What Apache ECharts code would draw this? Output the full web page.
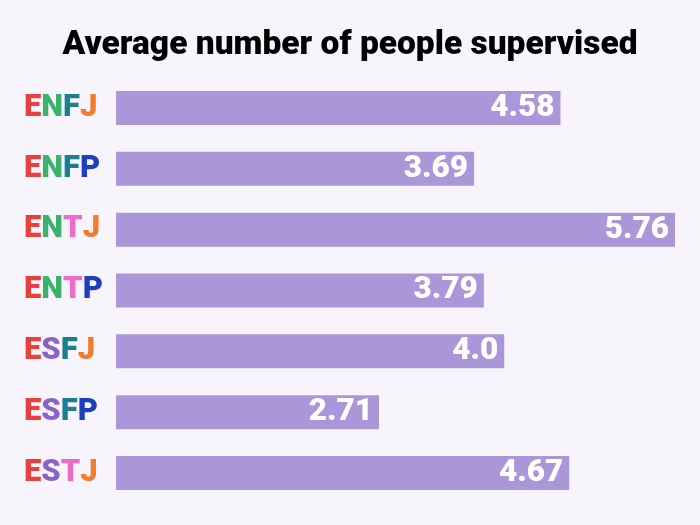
<!DOCTYPE html>
<html><head><meta charset="utf-8">
<script src="https://cdn.jsdelivr.net/npm/echarts@6/dist/echarts.min.js"></script>
<style>html,body{margin:0;padding:0;background:#f7f5fb;}#c{width:700px;height:525px;}</style>
</head><body><div id="c"></div>
<script>
const categories = ['ENFJ','ENFP','ENTJ','ENTP','ESFJ','ESFP','ESTJ'];
const values = [4.58, 3.69, 5.76, 3.79, 4.0, 2.71, 4.67];
const valueLabels = ['4.58','3.69','5.76','3.79','4.0','2.71','4.67'];
const letterColors = {E:'#e8403f', N:'#3bb26b', S:'#8a63c6', F:'#1b7f8f', T:'#f06acb', J:'#f47a2c', P:'#1d3fbf'};

const rich = {};
Object.keys(letterColors).forEach(k => {
  rich[k] = {color: letterColors[k], fontSize: 31, fontWeight: 900, fontFamily: 'Roboto'};
});

const chart = echarts.init(document.getElementById('c'), null, {renderer: 'canvas'});
chart.setOption({
  backgroundColor: '#f7f5fb',
  animation: false,
  title: {
    text: 'Average number of people supervised',
    left: 'center', top: 24,
    textStyle: {fontFamily: 'Roboto', fontWeight: 900, fontSize: 33.5, color: '#000'}
  },
  grid: {left: 116, right: 25, top: 77.6, bottom: 21.6, containLabel: false},
  xAxis: {type: 'value', min: 0, max: 5.76, show: false},
  yAxis: {
    type: 'category', data: categories, inverse: true,
    axisLine: {show: false}, axisTick: {show: false},
    axisLabel: {
      align: 'left', margin: 92,
      formatter: v => v.split('').map(ch => '{' + ch + '|' + ch + '}').join(''),
      rich: rich
    }
  },
  series: [{
    type: 'bar', data: values, barWidth: 34,
    itemStyle: {color: '#ab96d9'},
    label: {
      show: true, position: 'insideRight', distance: 6,
      formatter: p => valueLabels[p.dataIndex],
      color: '#fff', fontFamily: 'Roboto', fontWeight: 900, fontSize: 31.5
    }
  }]
});
</script></body></html>
